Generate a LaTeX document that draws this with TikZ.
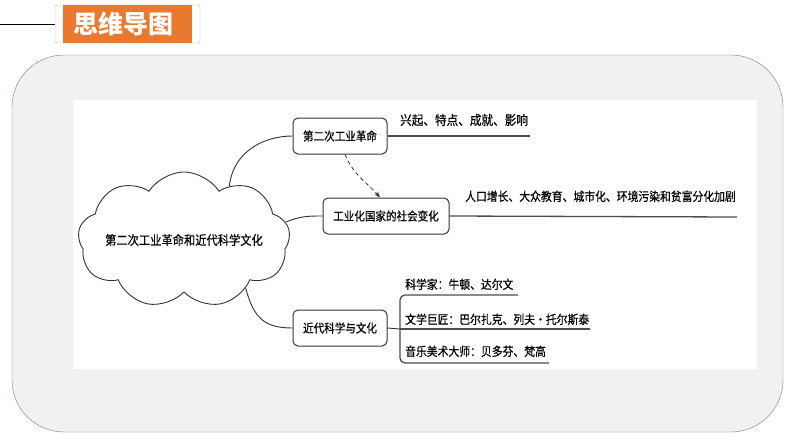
\documentclass[tikz,border=0pt]{standalone}
\usepackage{fontspec}
\setmainfont{Noto Sans CJK SC}
\newfontfamily\mapfont{Noto Sans CJK SC}[FakeBold=0.5, FakeStretch=0.88]
\usepackage{tikz}
\usetikzlibrary{positioning,calc,shapes.symbols,arrows.meta}
\usepackage{xcolor}
\definecolor{titleorange}{HTML}{E8792E}
\definecolor{panelgray}{HTML}{F1F1F1}
\definecolor{panelline}{HTML}{6F7F8F}

\begin{document}
\begin{tikzpicture}[x=1pt, y=-1pt,
  topic/.style={draw=black!80, line width=1pt, rounded corners=5pt, fill=white, minimum width=94pt, minimum height=36pt, inner sep=2pt, font=\mapfont\fontsize{12}{14}\selectfont},
  core/.style={cloud, draw=black!80, line width=0.9pt, fill=white, cloud puffs=9, cloud puff arc=115, cloud ignores aspect, minimum width=212pt, minimum height=136pt, inner sep=0pt},
  leaf/.style={anchor=base west, inner sep=0pt, font=\mapfont\fontsize{12.3}{14}\selectfont},
  branch/.style={line width=0.9pt, black!80},
  rule/.style={line width=1.3pt, black!70},
  link/.style={->, >={Stealth[length=6pt]}, line width=0.8pt, dash pattern=on 4pt off 3pt, black!80}
]
\useasboundingbox (0,0) rectangle (794,447);
\fill[white] (0,0) rectangle (794,447);

\draw[line width=0.8pt] (0,24) -- (55,24);
\draw[gray!60, fill=white, rounded corners=2pt] (55,5) rectangle (200,43);
\fill[titleorange] (63,5) rectangle (192,43);
\node[text=white, font=\fontsize{25}{28}\selectfont\bfseries] (title) at (123,24) {思维导图};

\draw[panelline, fill=panelgray, rounded corners=52pt] (12,55) rectangle (783,432);
\fill[white] (73,100) rectangle (757,369);

\node[core] (map) at (184,240) {};
\node[font=\mapfont\fontsize{12.8}{14}\selectfont] (mapText) at (map.center) {第二次工业革命和近代科学文化};

\node[topic] (rev) at (340,136) {第二次工业革命};
\node[topic, minimum width=126pt] (soc) at (386,216) {工业化国家的社会变化};
\node[topic] (sci) at (340,328) {近代科学与文化};

\draw[branch] (map.50) .. controls +(4,-35) and +(-28,0) .. (rev.west);
\draw[branch] (map.10) .. controls +(15,-6) and +(-15,0) .. (soc.west);
\draw[branch] (map.-38) .. controls +(8,30) and +(-28,0) .. (sci.west);

\draw[link] ([xshift=5pt]rev.south) .. controls +(8,20) and +(-12,-14) .. ([xshift=-6pt]soc.north);

\node[leaf, font=\mapfont\fontsize{13.2}{14}\selectfont] (revNote) at (400,125) {兴起、特点、成就、影响};
\coordinate (revEnd) at (530,136);
\draw[rule] (rev.east) -- (revEnd);

\node[leaf] (socNote) at (465,201) {人口增长、大众教育、城市化、环境污染和贫富分化加剧};
\coordinate (socEnd) at (737,217);
\draw[rule] (soc.east) -- (socEnd);

\node[leaf] (sciA) at (405,289) {科学家：牛顿、达尔文};
\node[leaf] (sciB) at (405,324) {文学巨匠：巴尔扎克、列夫·托尔斯泰};
\node[leaf] (sciC) at (405,356) {音乐美术大师：贝多芬、梵高};
\coordinate (fork) at (400,329);
\coordinate (sciAEnd) at (518,295);
\coordinate (sciBEnd) at (590,329);
\coordinate (sciCEnd) at (549,363);
\draw[branch] (sci.east) -- (fork);
\draw[rule, rounded corners=5pt] (sciAEnd) -- (sciAEnd -| fork) -- (sciCEnd -| fork) -- (sciCEnd);
\draw[rule] (fork) -- (sciBEnd);

\end{tikzpicture}
\end{document}
